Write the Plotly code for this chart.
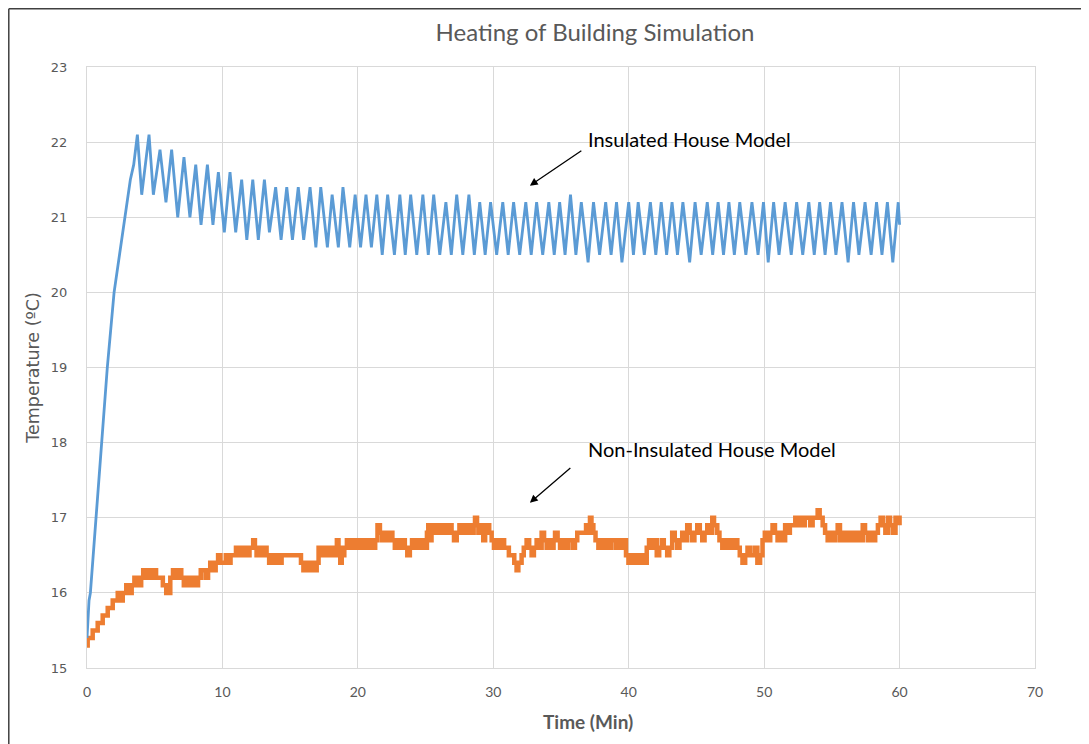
import plotly.graph_objects as go

# ---------------- data ----------------
insulated_t = [0.0, 0.08, 0.15, 0.25, 0.45, 0.7, 1.1, 1.5, 2.0, 2.4, 2.8, 3.2, 3.45, 3.72,
               4.04, 4.58, 4.90, 5.39, 5.83, 6.25, 6.70, 7.16, 7.60, 8.03, 8.42, 8.89, 9.30, 9.70,
               10.14, 10.56, 10.98, 11.42, 11.80, 12.24, 12.65, 13.10, 13.47, 13.93, 14.33, 14.75,
               15.17, 15.60, 16.00, 16.47, 16.90, 17.26, 17.75, 18.10, 18.56, 18.90, 19.40, 19.80,
               20.20, 20.60, 21.00, 21.40, 21.80, 22.20, 22.70, 23.10, 23.50, 23.90, 24.35, 24.80,
               25.20, 25.60, 26.05, 26.50, 26.90, 27.30, 27.75, 28.20, 28.60, 29.00, 29.40, 29.80,
               30.25, 30.70, 31.10, 31.50, 31.95, 32.40, 32.80, 33.20, 33.65, 34.10, 34.50, 34.90,
               35.30, 35.70, 36.10, 36.50, 37.00, 37.40, 37.85, 38.30, 38.70, 39.10, 39.50, 40.00,
               40.35, 40.70, 41.15, 41.60, 42.00, 42.40, 42.80, 43.20, 43.60, 44.00, 44.50, 44.90,
               45.35, 45.80, 46.20, 46.60, 47.00, 47.40, 47.80, 48.20, 48.65, 49.10, 49.55, 49.95,
               50.30, 50.70, 51.10, 51.55, 52.00, 52.40, 52.85, 53.30, 53.70, 54.10, 54.50, 54.90,
               55.30, 55.75, 56.20, 56.60, 57.00, 57.45, 57.90, 58.30, 58.70, 59.10, 59.50, 59.90,
               60.0]
insulated_temp = [15.4, 15.6, 15.9, 16.0, 16.5, 17.0, 18.0, 19.0, 20.0, 20.5, 21.0, 21.5, 21.7, 22.1,
                  21.3, 22.1, 21.3, 21.9, 21.2, 21.9, 21.0, 21.8, 21.0, 21.7, 20.9, 21.7, 20.9, 21.6,
                  20.8, 21.6, 20.8, 21.5, 20.7, 21.5, 20.7, 21.5, 20.8, 21.4, 20.7, 21.4,
                  20.7, 21.4, 20.7, 21.4, 20.6, 21.4, 20.6, 21.3, 20.6, 21.4, 20.6, 21.3,
                  20.6, 21.3, 20.6, 21.3, 20.5, 21.3, 20.5, 21.3, 20.5, 21.3, 20.5, 21.3,
                  20.5, 21.3, 20.5, 21.2, 20.5, 21.3, 20.5, 21.3, 20.5, 21.2, 20.5, 21.2,
                  20.5, 21.2, 20.5, 21.2, 20.5, 21.2, 20.5, 21.2, 20.5, 21.2, 20.5, 21.2,
                  20.5, 21.3, 20.5, 21.2, 20.4, 21.2, 20.5, 21.2, 20.5, 21.2, 20.4, 21.2,
                  20.5, 21.2, 20.5, 21.2, 20.5, 21.2, 20.5, 21.2, 20.5, 21.2, 20.4, 21.2,
                  20.5, 21.2, 20.5, 21.2, 20.5, 21.2, 20.5, 21.2, 20.5, 21.2, 20.5, 21.2,
                  20.4, 21.2, 20.5, 21.2, 20.5, 21.2, 20.5, 21.2, 20.5, 21.2, 20.5, 21.2,
                  20.5, 21.2, 20.4, 21.2, 20.5, 21.2, 20.5, 21.2, 20.5, 21.2, 20.4, 21.2,
                  20.9]

noninsulated_t = [0.0, 0.05, 0.25, 0.42, 0.6, 0.79, 1.0, 1.16, 1.35, 1.53, 1.7, 1.9, 2.1, 2.27, 2.45,
                  2.64, 2.9, 3.14, 3.3, 3.5, 3.75, 4.0, 4.15, 4.37, 4.55, 4.74, 4.9, 5.1, 5.3, 5.48,
                  5.6, 5.73, 5.85, 5.98, 6.15, 6.35, 6.5, 6.6, 6.8, 6.96, 7.15, 7.33, 7.55, 7.83,
                  8.0, 8.2, 8.4, 8.57, 8.75, 8.94, 9.1, 9.3, 9.5, 9.68, 9.85, 10.05, 10.25, 10.42,
                  10.6, 10.79, 11.0, 11.28, 11.5, 11.78, 12.0, 12.15, 12.27, 12.4, 12.52, 12.7,
                  12.89, 13.05, 13.26, 13.45, 13.63, 13.8, 14.0, 14.2, 14.37, 14.55, 14.74, 15.0,
                  15.23, 15.4, 15.6, 15.8, 15.98, 16.15, 16.35, 16.55, 16.72, 16.85, 16.96, 17.1,
                  17.2, 17.4, 17.58, 17.75, 17.95, 18.15, 18.32, 18.45, 18.57, 18.7, 18.81, 19.0,
                  19.19, 19.35, 19.56, 19.8, 20.05, 20.25, 20.42, 20.65, 20.91, 21.1, 21.28, 21.45,
                  21.63, 21.8, 22.0, 22.2, 22.36, 22.55, 22.73, 22.9, 23.1, 23.3, 23.47, 23.65,
                  23.84, 24.0, 24.2, 24.4, 24.58, 24.75, 24.95, 25.1, 25.2, 25.35, 25.44, 25.6,
                  25.81, 26.0, 26.18, 26.35, 26.55, 26.75, 26.92, 27.1, 27.3, 27.5, 27.66, 27.85,
                  28.03, 28.2, 28.4, 28.55, 28.65, 28.8, 28.9, 29.1, 29.26, 29.4, 29.5, 29.7,
                  29.88, 30.05, 30.25, 30.45, 30.62, 30.8, 30.99, 31.15, 31.35, 31.55, 31.72, 31.85,
                  32.09, 32.25, 32.46, 32.65, 32.83, 33.0, 33.2, 33.4, 33.57, 33.75, 33.94, 34.1,
                  34.31, 34.45, 34.56, 34.75, 34.93, 35.1, 35.3, 35.5, 35.66, 35.85, 36.03, 36.2,
                  36.4, 36.65, 36.85, 37.02, 37.14, 37.25, 37.39, 37.55, 37.76, 37.95, 38.13, 38.3,
                  38.5, 38.7, 38.87, 39.05, 39.24, 39.4, 39.6, 39.8, 39.98, 40.15, 40.34, 40.5,
                  40.71, 40.9, 41.08, 41.2, 41.33, 41.5, 41.7, 41.9, 42.07, 42.25, 42.44, 42.59,
                  42.7, 42.84, 43.0, 43.21, 43.4, 43.58, 43.75, 43.95, 44.1, 44.32, 44.5, 44.69,
                  44.85, 45.06, 45.25, 45.43, 45.6, 45.8, 46.0, 46.17, 46.3, 46.54, 46.7, 46.91,
                  47.1, 47.28, 47.45, 47.65, 47.85, 48.02, 48.2, 48.4, 48.6, 48.77, 48.95, 49.14,
                  49.3, 49.5, 49.7, 49.88, 50.05, 50.25, 50.45, 50.62, 50.8, 50.99, 51.2, 51.36,
                  51.55, 51.73, 51.9, 52.1, 52.3, 52.47, 52.65, 52.84, 53.0, 53.21, 53.4, 53.58,
                  53.8, 53.95, 54.1, 54.32, 54.5, 54.69, 54.85, 55.06, 55.25, 55.43, 55.6, 55.8,
                  56.0, 56.17, 56.35, 56.54, 56.7, 56.91, 57.1, 57.28, 57.45, 57.65, 57.85, 58.02,
                  58.2, 58.4, 58.6, 58.77, 58.95, 59.14, 59.3, 59.5, 59.7, 59.88, 60.0]
noninsulated_temp = [15.3, 15.4, 15.4, 15.5, 15.5, 15.6, 15.6, 15.7, 15.7, 15.8, 15.8, 15.9, 15.9, 16.0, 15.9,
                     16.0, 16.1, 16.0, 16.1, 16.2, 16.1, 16.2, 16.3, 16.2, 16.3, 16.2, 16.3, 16.2, 16.2, 16.2,
                     16.1, 16.1, 16.0, 16.0, 16.2, 16.3, 16.2, 16.2, 16.3, 16.2, 16.1, 16.2, 16.1, 16.2,
                     16.1, 16.2, 16.3, 16.3, 16.2, 16.3, 16.4, 16.3, 16.4, 16.5, 16.4, 16.4, 16.5, 16.4,
                     16.5, 16.5, 16.6, 16.5, 16.6, 16.5, 16.6, 16.6, 16.7, 16.6, 16.5, 16.6,
                     16.5, 16.6, 16.5, 16.4, 16.5, 16.4, 16.5, 16.4, 16.5, 16.5, 16.5, 16.5,
                     16.5, 16.5, 16.5, 16.4, 16.3, 16.4, 16.3, 16.4, 16.4, 16.3, 16.4, 16.6,
                     16.5, 16.6, 16.5, 16.6, 16.5, 16.6, 16.5, 16.7, 16.6, 16.4, 16.5, 16.6,
                     16.7, 16.6, 16.7, 16.6, 16.7, 16.6, 16.7, 16.6, 16.7, 16.6, 16.7, 16.9,
                     16.8, 16.7, 16.8, 16.7, 16.8, 16.7, 16.6, 16.7, 16.6, 16.7, 16.6, 16.5,
                     16.6, 16.7, 16.6, 16.7, 16.6, 16.7, 16.6, 16.8, 16.9, 16.7, 16.8, 16.9,
                     16.8, 16.9, 16.8, 16.9, 16.8, 16.9, 16.8, 16.7, 16.8, 16.9, 16.8, 16.9,
                     16.8, 16.9, 16.8, 16.9, 17.0, 16.9, 16.8, 16.9, 16.7, 16.8, 16.9, 16.8,
                     16.7, 16.6, 16.7, 16.6, 16.7, 16.6, 16.6, 16.5, 16.5, 16.4, 16.3, 16.4,
                     16.5, 16.6, 16.7, 16.6, 16.5, 16.6, 16.7, 16.6, 16.8, 16.7, 16.6, 16.7,
                     16.6, 16.7, 16.8, 16.7, 16.6, 16.7, 16.6, 16.7, 16.7, 16.6, 16.7, 16.8,
                     16.8, 16.8, 16.9, 16.8, 17.0, 16.9, 16.8, 16.7, 16.6, 16.7, 16.6, 16.7,
                     16.6, 16.7, 16.7, 16.6, 16.7, 16.6, 16.7, 16.5, 16.4, 16.5, 16.4, 16.5,
                     16.4, 16.5, 16.5, 16.4, 16.6, 16.7, 16.6, 16.7, 16.5, 16.6, 16.7, 16.6,
                     16.6, 16.5, 16.6, 16.8, 16.7, 16.6, 16.7, 16.8, 16.7, 16.9, 16.8, 16.7,
                     16.8, 16.9, 16.8, 16.7, 16.8, 16.9, 16.8, 17.0, 16.9, 16.8, 16.7, 16.6,
                     16.7, 16.6, 16.7, 16.6, 16.7, 16.6, 16.5, 16.4, 16.5, 16.6, 16.5, 16.5,
                     16.6, 16.4, 16.5, 16.7, 16.8, 16.7, 16.8, 16.9, 16.8, 16.7, 16.8, 16.7,
                     16.9, 16.8, 16.9, 16.9, 17.0, 16.9, 17.0, 16.9, 17.0, 17.0, 16.9, 17.0,
                     17.0, 17.1, 17.0, 16.9, 16.8, 16.7, 16.8, 16.7, 16.8, 16.9, 16.7, 16.8,
                     16.7, 16.8, 16.7, 16.8, 16.7, 16.8, 16.7, 16.9, 16.8, 16.7, 16.8, 16.7,
                     16.8, 16.9, 17.0, 16.9, 16.8, 17.0, 16.9, 16.8, 17.0, 17.0, 16.9]

x_ticks = [0, 10, 20, 30, 40, 50, 60, 70]
y_ticks = [15, 16, 17, 18, 19, 20, 21, 22, 23]

title_text = "Heating of Building Simulation"
x_title = "Time (Min)"
y_title = "Temperature (ºC)"
label_insulated = "Insulated House Model"
label_noninsulated = "Non-Insulated House Model"

# ---------------- figure ----------------
BLUE = "#5B9BD5"
ORANGE = "#ED7D31"
GRID = "#D9D9D9"
TXT = "#595959"
FONT = "Lato, 'Open Sans', sans-serif"
WIDE = "'DejaVu Sans', Verdana, sans-serif"

W, H = 1081, 736   # page adds an 8px body margin

fig = go.Figure()
fig.add_trace(go.Scatter(x=noninsulated_t, y=noninsulated_temp, mode="lines",
                         line=dict(color=ORANGE, width=4.5, shape="hv"),
                         name=label_noninsulated, showlegend=False))
fig.add_trace(go.Scatter(x=insulated_t, y=insulated_temp, mode="lines",
                         line=dict(color=BLUE, width=2.8),
                         name=label_insulated, showlegend=False))

fig.update_layout(
    width=W, height=H,
    margin=dict(l=79, r=54, t=59, b=76),
    paper_bgcolor="white", plot_bgcolor="white",
    font=dict(family=FONT, color=TXT, size=13),
    title=dict(text=title_text, x=587 / W, xanchor="center",
               y=1 - 25 / H, yanchor="middle",
               font=dict(family=FONT, size=24, color=TXT)),
)
fig.update_xaxes(range=[0, 70], tickvals=x_ticks, showgrid=True, gridcolor=GRID, gridwidth=1,
                 showline=True, linecolor=GRID, linewidth=1, mirror=True, zeroline=False,
                 ticks="", ticklabelstandoff=11, tickfont=dict(family=FONT, size=14, color=TXT))
fig.update_yaxes(range=[15, 23], tickvals=y_ticks, showgrid=True, gridcolor=GRID, gridwidth=1,
                 showline=True, linecolor=GRID, linewidth=1, mirror=True, zeroline=False,
                 ticks="", ticklabelstandoff=16, tickfont=dict(family=WIDE, size=13, color=TXT),
                 title=dict(text=y_title, standoff=6,
                            font=dict(family=WIDE, size=17.5, color=TXT)))

# x-axis title (offset to the right as in the reference)
fig.add_annotation(x=(588 - 87) / 948, y=(668 - 721) / 601, xref="paper", yref="paper",
                   text=x_title, showarrow=False, xanchor="center", yanchor="middle",
                   font=dict(family=FONT, size=19, color=TXT, weight="bold"))

# text labels
fig.add_annotation(x=36.85, y=22.04, xref="x", yref="y", text=label_insulated,
                   showarrow=False, xanchor="left", yanchor="middle",
                   font=dict(family=FONT, size=20, color="#000000"))
fig.add_annotation(x=36.85, y=17.91, xref="x", yref="y", text=label_noninsulated,
                   showarrow=False, xanchor="left", yanchor="middle",
                   font=dict(family=FONT, size=20, color="#000000"))
# arrows
fig.add_annotation(x=32.7, y=21.42, xref="x", yref="y", ax=53, ay=-36, text="",
                   showarrow=True, arrowhead=2, arrowsize=1.2, arrowwidth=1.3, arrowcolor="#000000")
fig.add_annotation(x=32.7, y=17.2, xref="x", yref="y", ax=42, ay=-36, text="",
                   showarrow=True, arrowhead=2, arrowsize=1.2, arrowwidth=1.3, arrowcolor="#000000")

# outer frame (screenshot border), drawn at the figure's left/top edges
fig.add_shape(type="line", xref="paper", yref="paper", x0=-0.0825, x1=-0.0825, y0=-0.2, y1=1.0969,
              line=dict(color="#404040", width=1.5))
fig.add_shape(type="line", xref="paper", yref="paper", x0=-0.0825, x1=1.06, y0=1.0969, y1=1.0969,
              line=dict(color="#404040", width=1.5))
fig.add_shape(type="line", xref="paper", yref="paper", x0=1.0555, x1=1.0555, y0=-0.2, y1=1.0969,
              line=dict(color="#C8C8C8", width=1))

fig.write_html("out.html")
